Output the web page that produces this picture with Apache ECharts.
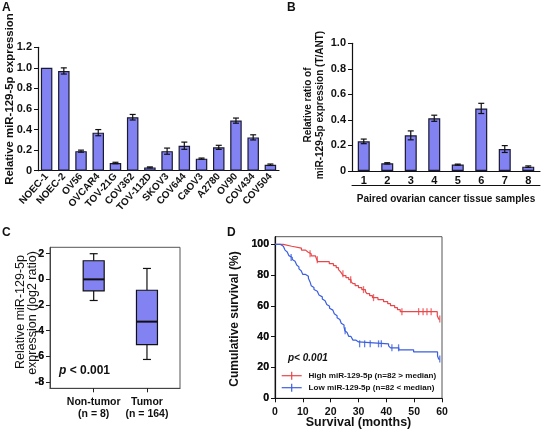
<!DOCTYPE html>
<html><head><meta charset="utf-8">
<script src="https://cdn.jsdelivr.net/npm/echarts@6/dist/echarts.min.js"></script>
<style>html,body{margin:0;padding:0;background:#fff}#wrap{position:relative;width:550px;height:430px;background:#fff}
.layer{position:absolute}</style>
</head><body><div id="wrap">
<div class="layer" id="cAB" style="left:0;top:0;width:550px;height:215px"></div>
<div class="layer" id="cC" style="left:0;top:215px;width:275px;height:215px"></div>
<div class="layer" id="cD" style="left:215px;top:215px;width:275px;height:215px"></div>
<div class="layer" id="cCL" style="left:0;top:215px;width:275px;height:215px;pointer-events:none"></div>
<div class="layer" id="cDL" style="left:215px;top:215px;width:275px;height:215px;pointer-events:none"></div>
<div class="layer" id="cT" style="left:0;top:0;width:550px;height:430px;pointer-events:none"></div>
</div>
<script>
// ---------- Panel A: cell lines ----------
const cellLines = ['NOEC-1','NOEC-2','OV56','OVCAR4','TOV-21G','COV362','TOV-112D','SKOV3','COV644','CaOV3','A2780','OV90','COV434','COV504'];
const cellExpr  = [1.00, 0.97, 0.19, 0.37, 0.075, 0.52, 0.032, 0.19, 0.243, 0.117, 0.227, 0.487, 0.324, 0.058];
const cellErr   = [0, 0.03, 0.01, 0.03, 0.007, 0.027, 0.005, 0.03, 0.035, 0.006, 0.02, 0.025, 0.025, 0.007];
// ---------- Panel B: paired tissues ----------
const tissueSamples = ['1','2','3','4','5','6','7','8'];
const tissueRatio   = [0.232, 0.06, 0.279, 0.413, 0.05, 0.49, 0.172, 0.034];
const tissueErr     = [0.018, 0.005, 0.035, 0.024, 0.004, 0.04, 0.027, 0.006];
// ---------- Panel C: box plot (min, Q1, median, Q3, max) ----------
const boxGroups = ['Non-tumor\n(n = 8)', 'Tumor\n(n = 164)'];
const boxStats  = [[-1.65, -0.9, 0, 1.45, 2.0], [-6.25, -5.1, -3.3, -0.85, 0.85]];
// ---------- Panel D: Kaplan-Meier ----------
const highName = 'High miR-129-5p (n=82 > median)';
const lowName  = 'Low miR-129-5p (n=82 < median)';
const highSteps = [[0,100],[3,98.8],[6,97.6],[9.5,96.3],[11,95.1],[11.8,93.9],[13,92.6],[14.5,91.4],[15,90.1],[15.3,88.8],[19.5,87.5],[21,86.2],[22,84.9],[22.8,83.6],[23.5,82.3],[24,81],[24.5,79.7],[25.5,78.4],[26.5,77.1],[27.3,75.8],[28,74.5],[28.8,73.2],[30,71.9],[31.2,70.6],[32.5,69.3],[33,68],[34,66.7],[35,65.4],[37,64.1],[39,62.8],[40.5,61.5],[41.5,60.2],[43,58.9],[44,57.6],[45,56.3],[58.3,53.6],[58.8,51.5]];
const highCensor = [12.6,15.2,24.4,27.2,31.8,35.4,45.6,51.6,53.2,54.6,56.1,59.2];
const lowSteps = [[0,100],[2,98.8],[3,97.6],[3.6,96.3],[4,95.1],[4.4,93.9],[5,92.7],[5.5,91.5],[6.2,90.2],[6.8,89],[7.2,87.8],[7.8,86.6],[8.2,85.4],[8.6,84.1],[9,82.9],[9.4,81.7],[10,80.5],[11,79.3],[12,78],[12.4,76.8],[12.6,75.6],[12.8,74.4],[13,73.2],[13.3,72],[14,70.7],[14.5,69.5],[15.2,68.3],[15.8,67.1],[16.5,65.9],[17,64.6],[17.5,63.4],[18,62.2],[18.6,61],[19,59.8],[19.6,58.5],[20.2,57.3],[20.8,56.1],[21.3,54.9],[21.8,53.7],[22.3,52.4],[22.8,51.2],[23.3,50],[23.8,48.8],[24.3,47.6],[24.8,46.3],[25,45.1],[25.1,43.9],[25.3,42.7],[25.9,41.5],[26.5,40.2],[27.3,39],[28,37.8],[29,36.6],[30,35.4],[40.8,34.1],[41.5,32.8],[44.5,31.5],[49.8,30.1],[58.4,27.5],[58.8,25.5]];
const lowCensor = [5.8,25.2,30.4,32.2,34.2,37.2,38.2,42,44.4,59.2];
const boxTicks = [-8,-6,-4,-2,0,2];
const survTicks = [0,20,40,60,80,100];

const FONT = "'Liberation Sans', Arial, sans-serif";
const BAR = '#8282f2';
const RED = '#e8474b';
const BLUE = '#3c5fe0';

function survAt(steps, t){ let v = steps[0][1]; for (const s of steps){ if (s[0] <= t) v = s[1]; } return v; }
function lineData(steps, cens){ const end = Math.max(...cens); return steps.concat([[end, steps[steps.length-1][1]]]); }
function censData(steps, cens){ return cens.map(t => [t, survAt(steps, t)]); }

function errRender(params, api){
  const x = api.value(0), y = api.value(1), e = api.value(2);
  if (!e) return null;
  const t = api.coord([x, y + e]), b = api.coord([x, y - e]);
  const h = 3, st = {stroke:'#111', lineWidth:1.2};
  return {type:'group', children:[
    {type:'line', shape:{x1:t[0],y1:t[1],x2:b[0],y2:b[1]}, style:st},
    {type:'line', shape:{x1:t[0]-h,y1:t[1],x2:t[0]+h,y2:t[1]}, style:st},
    {type:'line', shape:{x1:b[0]-h,y1:b[1],x2:b[0]+h,y2:b[1]}, style:st}
  ]};
}
function boxRender(params, api){
  const i = api.value(0);
  const pMin = api.coord([i, api.value(1)]), pQ1 = api.coord([i, api.value(2)]), pMed = api.coord([i, api.value(3)]);
  const pQ3 = api.coord([i, api.value(4)]), pMax = api.coord([i, api.value(5)]);
  const hw = 10.5, cw = 4, st = {stroke:'#111', lineWidth:1.2};
  return {type:'group', children:[
    {type:'line', shape:{x1:pMax[0],y1:pMax[1],x2:pQ3[0],y2:pQ3[1]}, style:st},
    {type:'line', shape:{x1:pMin[0],y1:pMin[1],x2:pQ1[0],y2:pQ1[1]}, style:st},
    {type:'line', shape:{x1:pMax[0]-cw,y1:pMax[1],x2:pMax[0]+cw,y2:pMax[1]}, style:st},
    {type:'line', shape:{x1:pMin[0]-cw,y1:pMin[1],x2:pMin[0]+cw,y2:pMin[1]}, style:st},
    {type:'rect', shape:{x:pQ3[0]-hw, y:pQ3[1], width:2*hw, height:pQ1[1]-pQ3[1]}, style:{fill:BAR, stroke:'#111', lineWidth:1.2}},
    {type:'line', shape:{x1:pMed[0]-hw,y1:pMed[1],x2:pMed[0]+hw,y2:pMed[1]}, style:{stroke:'#111', lineWidth:2}}
  ]};
}

const lbl = (size, extra) => Object.assign({fontFamily:FONT, fontWeight:'bold', fontSize:size, color:'#111'}, extra||{});
const axLine = () => ({show:true, onZero:false, lineStyle:{color:'#111', width:1.2}});
const vtext = (x, y, text, font) => ({type:'text', x, y, rotation:Math.PI/2,
  style:{text, font: font + ' ' + FONT, fill:'#111', textAlign:'center', textVerticalAlign:'middle'}});
const letter = (x, y, t) => ({type:'text', x, y, style:{text:t, font:"bold 12px "+FONT, fill:'#111'}});
const legendItem = (y, color, text) => [
  {type:'line', shape:{x1:281.7, y1:y, x2:301.7, y2:y}, style:{stroke:color, lineWidth:1.2}},
  {type:'line', shape:{x1:291.7, y1:y-4, x2:291.7, y2:y+4}, style:{stroke:color, lineWidth:1.2}},
  {type:'text', x:308.5, y, style:{text, font:"bold 8.1px "+FONT, fill:'#111', textVerticalAlign:'middle'}}
];

// ---------- panels A and B ----------
echarts.init(document.getElementById('cAB')).setOption({
  animation:false,
  grid:[
    {left:38, top:47.3, width:241, height:123.4},
    {left:352, top:43.3, width:188, height:127.7}
  ],
  xAxis:[
    {gridIndex:0, type:'category', data:cellLines, axisLine:axLine(), axisTick:{show:false},
     axisLabel:lbl(10, {rotate:48, interval:0, margin:4})},
    {gridIndex:1, type:'category', data:tissueSamples, axisLine:axLine(), axisTick:{show:false},
     axisLabel:lbl(11, {margin:4})},
    {gridIndex:1, type:'value', min:0, max:1, position:'bottom', offset:14.7,
     axisLine:{show:true, onZero:false, lineStyle:{color:'#111', width:1}}, axisTick:{show:false}, axisLabel:{show:false}, splitLine:{show:false},
     name:'Paired ovarian cancer tissue samples', nameLocation:'middle', nameGap:9, nameTextStyle:lbl(10)}
  ],
  yAxis:[
    {gridIndex:0, type:'value', min:0, max:1.2, interval:0.2, axisLine:axLine(),
     axisTick:{show:true, length:4, lineStyle:{color:'#111'}},
     axisLabel:lbl(11, {margin:6, formatter:v => v === 0 ? '0' : v.toFixed(1)}), splitLine:{show:false}},
    {gridIndex:1, type:'value', min:0, max:1.0, interval:0.2, axisLine:axLine(),
     axisTick:{show:true, length:4, lineStyle:{color:'#111'}},
     axisLabel:lbl(11, {margin:6, formatter:v => v === 0 ? '0' : v.toFixed(1)}), splitLine:{show:false}}
  ],
  series:[
    {type:'bar', xAxisIndex:0, yAxisIndex:0, data:cellExpr, barWidth:11.5,
     itemStyle:{color:BAR, borderColor:'#1a1a33', borderWidth:1.2}},
    {type:'custom', xAxisIndex:0, yAxisIndex:0, renderItem:errRender, z:5,
     data:cellLines.map((c,i) => [i, cellExpr[i], cellErr[i]])},
    {type:'bar', xAxisIndex:1, yAxisIndex:1, data:tissueRatio, barWidth:12,
     itemStyle:{color:BAR, borderColor:'#1a1a33', borderWidth:1.2}},
    {type:'custom', xAxisIndex:1, yAxisIndex:1, renderItem:errRender, z:5,
     data:tissueSamples.map((c,i) => [i, tissueRatio[i], tissueErr[i]])}
  ]
});

// ---------- panel C ----------
const gridC = () => [{left:50, top:32.3, width:130, height:141, show:true, borderColor:'#555', borderWidth:1}];
const yAxisC = (withLine) => [{type:'value', min:-8.5, max:2.5,
  axisLine:{show:withLine, onZero:false, lineStyle:{color:'#444', width:1}},
  axisTick:{show:withLine, customValues:boxTicks, length:4, lineStyle:{color:'#222'}},
  axisLabel:lbl(10.5, {customValues:boxTicks, margin:6}), splitLine:{show:false}}];
echarts.init(document.getElementById('cC')).setOption({
  grid:gridC(),
  xAxis:[{type:'value', min:-0.82, max:1.62, axisLine:{show:true, onZero:false, lineStyle:{color:'#444', width:1}},
    axisTick:{show:true, customValues:[0,1], length:4, lineStyle:{color:'#222'}},
    axisLabel:lbl(10.5, {customValues:[0,1], margin:8, lineHeight:12, formatter:v => boxGroups[Math.round(v)]}),
    splitLine:{show:false}}],
  yAxis:yAxisC(true),
  series:[{type:'custom', animation:false, renderItem:boxRender, data:boxStats.map((s,i) => [i].concat(s))}]
});
// y-axis tick labels for C, drawn by an axis-only instance with identical geometry
echarts.init(document.getElementById('cCL')).setOption({
  grid:[{left:50, top:32.3, width:130, height:141}],
  xAxis:[{type:'value', min:-0.82, max:1.62, show:false}],
  yAxis:yAxisC(false)
});

// ---------- panel D ----------
const yAxisD = (withLine) => [{type:'value', min:0, max:105,
  axisLine:{show:withLine, onZero:false, lineStyle:{color:'#111', width:1.2}},
  axisTick:{show:withLine, customValues:survTicks, length:4, lineStyle:{color:'#111'}},
  axisLabel:lbl(10.5, {customValues:survTicks, margin:6}), splitLine:{show:false}}];
echarts.init(document.getElementById('cD')).setOption({
  grid:[{left:60, top:21.7, width:167, height:161.6, show:true, borderColor:'#555', borderWidth:1}],
  xAxis:[{type:'value', min:0, max:60, interval:10, axisLine:axLine(),
    axisTick:{show:true, length:4, lineStyle:{color:'#111'}}, axisLabel:lbl(10.5, {margin:8}), splitLine:{show:false}}],
  yAxis:yAxisD(true),
  series:[
    {name:highName, type:'line', animation:false, step:'end', showSymbol:false,
     data:lineData(highSteps, highCensor), lineStyle:{color:RED, width:1.2}, itemStyle:{color:RED}},
    {name:lowName, type:'line', animation:false, step:'end', showSymbol:false,
     data:lineData(lowSteps, lowCensor), lineStyle:{color:BLUE, width:1.2}, itemStyle:{color:BLUE}},
    {type:'scatter', animation:false, symbol:'path://M0,0h1v10h-1z', symbolSize:[1.3,7],
     data:censData(highSteps, highCensor), itemStyle:{color:RED}},
    {type:'scatter', animation:false, symbol:'path://M0,0h1v10h-1z', symbolSize:[1.3,7],
     data:censData(lowSteps, lowCensor), itemStyle:{color:BLUE}}
  ]
});
// y-axis tick labels for D, drawn by an axis-only instance with identical geometry
echarts.init(document.getElementById('cDL')).setOption({
  grid:[{left:60, top:21.7, width:167, height:161.6}],
  xAxis:[{type:'value', min:0, max:60, show:false}],
  yAxis:yAxisD(false)
});

// ---------- text layer: panel letters, axis titles, p-values, KM legend ----------
echarts.init(document.getElementById('cT')).setOption({
  animation:false,
  graphic:[
    letter(2, 2, 'A'), letter(287, 2, 'B'), letter(2, 227, 'C'), letter(227, 227, 'D'),
    vtext(10, 99, 'Relative miR-129-5p expression', 'bold 11.4px'),
    vtext(308, 105, 'Relative ratio of', 'bold 10px'),
    vtext(320, 105, 'miR-129-5p expression (T/ANT)', 'bold 10px'),
    vtext(20.5, 312, 'Relative miR-129-5p', '12.5px'),
    vtext(33, 313, 'expression (log2 ratio)', '12.5px'),
    {type:'text', x:59, y:371, style:{text:'{i|p} < 0.001', textVerticalAlign:'middle', font:"bold 12px "+FONT, fill:'#111',
      rich:{i:{fontStyle:'italic', fontWeight:'bold', fontSize:12, fontFamily:FONT, fill:'#111'}}}},
    vtext(235, 319, 'Cumulative survival (%)', 'bold 12px'),
    {type:'text', x:358.5, y:423, style:{text:'Survival (months)', font:"bold 12.5px "+FONT, fill:'#111', textAlign:'center', textVerticalAlign:'middle'}},
    {type:'text', x:288, y:358, style:{text:'p< 0.001', font:"italic bold 10px "+FONT, fill:'#111', textVerticalAlign:'middle'}}
  ].concat(legendItem(375.7, RED, highName), legendItem(387.7, BLUE, lowName))
});
</script></body></html>
